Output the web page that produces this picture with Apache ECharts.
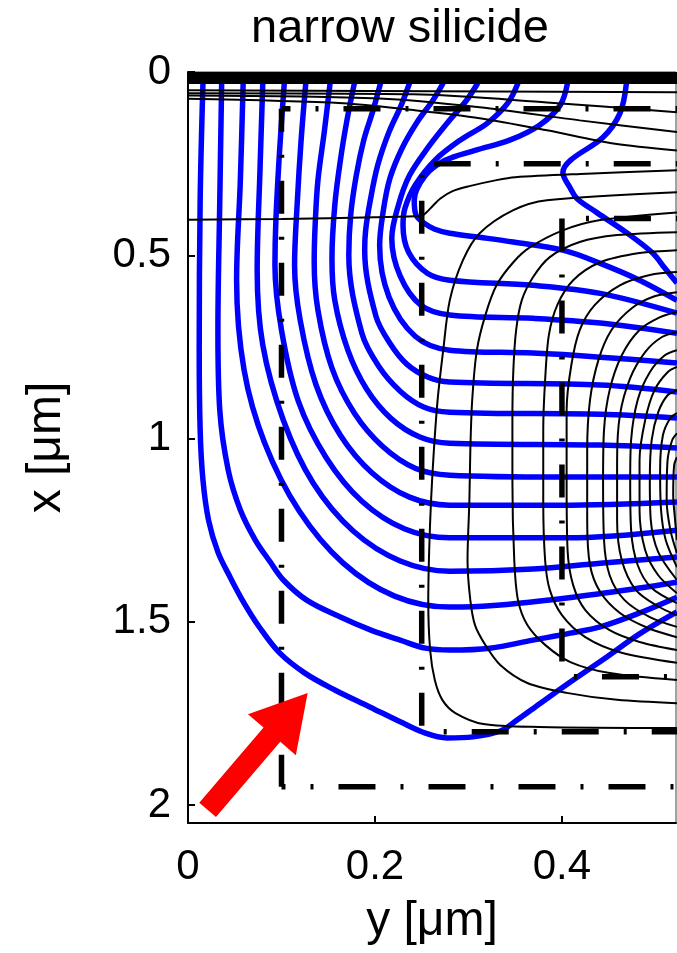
<!DOCTYPE html>
<html>
<head>
<meta charset="utf-8">
<script src="https://cdn.jsdelivr.net/npm/echarts@6/dist/echarts.min.js"></script>
<style>
html,body{margin:0;padding:0;background:#fff;}
#chart{width:677px;height:953px;}
</style>
</head>
<body>
<div id="chart"></div>
<script>
// Device cross-section under a narrow silicide contact.
// Every point is [y, x] in micrometres: y runs along the surface, x is depth.

const xTicks = [0, 0.2, 0.4];
const depthTicks = [0, 0.5, 1, 1.5, 2];

// silicide layer at the surface
const silicide = [[0, 0.0167], [0.53, 0.0167]];

// current flow lines leaving the silicide (blue)
const flowLines = [
  [[0.016,0.03],[0.013,0.35],[0.012,0.759],[0.013,0.977],[0.016,1.113],[0.022,1.223],[0.032,1.310],[0.045,1.378],[0.060,1.449],[0.077,1.517],[0.098,1.585],[0.125,1.640],[0.157,1.686],[0.195,1.733],[0.227,1.773],[0.254,1.804],[0.277,1.817],[0.305,1.814],[0.334,1.798],[0.352,1.768],[0.377,1.722],[0.412,1.659],[0.448,1.596],[0.483,1.533],[0.523,1.473]],
  [[0.036,0.03],[0.034,0.35],[0.032,0.704],[0.034,0.923],[0.043,1.086],[0.056,1.195],[0.072,1.277],[0.088,1.337],[0.102,1.386],[0.127,1.441],[0.163,1.487],[0.195,1.522],[0.227,1.55],[0.254,1.572],[0.280,1.577],[0.323,1.572],[0.369,1.55],[0.409,1.531],[0.441,1.514],[0.483,1.476],[0.523,1.433]],
  [[0.059,0.03],[0.056,0.295],[0.052,0.568],[0.060,0.813],[0.082,1.012],[0.119,1.198],[0.166,1.340],[0.221,1.430],[0.280,1.460],[0.334,1.454],[0.405,1.435],[0.483,1.408],[0.523,1.392]],
  [[0.080,0.03],[0.077,0.268],[0.074,0.541],[0.080,0.745],[0.102,0.950],[0.134,1.122],[0.177,1.253],[0.227,1.334],[0.280,1.362],[0.369,1.356],[0.441,1.340],[0.523,1.323]],
  [[0.103,0.03],[0.098,0.214],[0.094,0.405],[0.093,0.527],[0.100,0.704],[0.118,0.898],[0.148,1.053],[0.186,1.171],[0.232,1.247],[0.280,1.271],[0.405,1.271],[0.523,1.250]],
  [[0.126,0.03],[0.121,0.186],[0.117,0.350],[0.114,0.527],[0.120,0.677],[0.137,0.854],[0.163,0.991],[0.197,1.094],[0.237,1.160],[0.280,1.182],[0.398,1.182],[0.523,1.173]],
  [[0.152,0.03],[0.146,0.159],[0.139,0.295],[0.136,0.418],[0.135,0.519],[0.139,0.650],[0.154,0.808],[0.178,0.931],[0.208,1.021],[0.243,1.081],[0.280,1.10],[0.398,1.105],[0.523,1.105]],
  [[0.178,0.03],[0.170,0.132],[0.163,0.241],[0.157,0.364],[0.154,0.508],[0.157,0.623],[0.171,0.759],[0.191,0.865],[0.217,0.945],[0.248,0.996],[0.280,1.013],[0.441,1.018],[0.523,1.026]],
  [[0.206,0.03],[0.198,0.104],[0.188,0.186],[0.180,0.282],[0.174,0.391],[0.172,0.500],[0.186,0.713],[0.204,0.803],[0.227,0.871],[0.252,0.914],[0.280,0.928],[0.441,0.934],[0.523,0.944]],
  [[0.237,0.03],[0.228,0.091],[0.215,0.164],[0.203,0.254],[0.195,0.350],[0.190,0.432],[0.189,0.486],[0.201,0.666],[0.216,0.740],[0.234,0.797],[0.257,0.833],[0.280,0.846],[0.441,0.854],[0.523,0.873]],
  [[0.273,0.03],[0.262,0.077],[0.245,0.137],[0.229,0.208],[0.216,0.290],[0.209,0.377],[0.205,0.473],[0.215,0.614],[0.243,0.721],[0.280,0.759],[0.369,0.767],[0.441,0.778],[0.523,0.794]],
  [[0.310,0.03],[0.298,0.077],[0.278,0.137],[0.257,0.205],[0.237,0.282],[0.225,0.364],[0.218,0.454],[0.227,0.557],[0.249,0.636],[0.280,0.663],[0.369,0.672],[0.441,0.685],[0.523,0.713]],
  [[0.353,0.03],[0.342,0.085],[0.320,0.14],[0.291,0.186],[0.264,0.241],[0.243,0.309],[0.232,0.372],[0.230,0.418],[0.236,0.492],[0.256,0.549],[0.280,0.568],[0.369,0.582],[0.441,0.604],[0.523,0.658]],
  [[0.406,0.03],[0.398,0.091],[0.376,0.145],[0.344,0.186],[0.307,0.214],[0.275,0.241],[0.254,0.282],[0.242,0.350],[0.244,0.391],[0.253,0.413],[0.264,0.429],[0.280,0.440],[0.312,0.451],[0.348,0.464],[0.401,0.486],[0.441,0.522],[0.483,0.568],[0.523,0.623]],
  [[0.469,0.03],[0.462,0.113],[0.444,0.178],[0.409,0.241],[0.401,0.274],[0.409,0.317],[0.416,0.345],[0.437,0.383],[0.470,0.440],[0.497,0.494],[0.510,0.535],[0.523,0.576]]
];

// shallow contours just below the silicide (black)
const surfaceContours = [
  [[0,0.050],[0.523,0.055]],
  [[0,0.058],[0.241,0.061],[0.384,0.083],[0.523,0.110]],
  [[0,0.064],[0.205,0.072],[0.312,0.096],[0.419,0.132],[0.523,0.164]],
  [[0,0.073],[0.166,0.085],[0.241,0.104],[0.312,0.126],[0.384,0.159],[0.455,0.195],[0.523,0.214]]
];

// contour that runs flat at 0.4 um and bends up past the inner junction
const bentContour = [[0,0.403],[0.1,0.401],[0.2,0.396],[0.25,0.392],[0.255,0.383],[0.262,0.365],[0.27,0.345],[0.283,0.325],[0.3,0.312],[0.33,0.295],[0.35,0.287],[0.42,0.278],[0.523,0.268]];

// nested contours around the deep region (black)
const deepContours = [
  [[0.523,0.328],[0.384,0.350],[0.348,0.377],[0.312,0.440],[0.294,0.514],[0.280,0.623],[0.273,0.759],[0.267,0.895],[0.263,1.032],[0.260,1.168],[0.258,1.304],[0.257,1.441],[0.259,1.577],[0.264,1.659],[0.272,1.713],[0.286,1.749],[0.316,1.779],[0.376,1.787],[0.523,1.790]],
  [[0.523,0.383],[0.441,0.404],[0.401,0.432],[0.366,0.478],[0.348,0.519],[0.330,0.582],[0.318,0.664],[0.309,0.759],[0.304,0.895],[0.302,1.032],[0.301,1.168],[0.299,1.332],[0.302,1.441],[0.307,1.509],[0.318,1.563],[0.334,1.618],[0.363,1.667],[0.405,1.694],[0.459,1.713],[0.523,1.722]],
  [[0.523,0.437],[0.459,0.445],[0.419,0.464],[0.387,0.505],[0.369,0.560],[0.357,0.623],[0.351,0.704],[0.348,0.814],[0.347,0.950],[0.347,1.113],[0.349,1.332],[0.353,1.441],[0.363,1.509],[0.382,1.563],[0.409,1.610],[0.451,1.640],[0.523,1.659]],
  [[0.523,0.486],[0.483,0.494],[0.441,0.519],[0.412,0.568],[0.395,0.636],[0.386,0.718],[0.382,0.841],[0.380,0.977],[0.380,1.168],[0.382,1.332],[0.387,1.413],[0.400,1.482],[0.425,1.542],[0.462,1.583],[0.523,1.612]],
  [[0.523,0.546],[0.494,0.554],[0.462,0.582],[0.435,0.636],[0.419,0.704],[0.410,0.800],[0.405,0.923],[0.405,1.113],[0.406,1.304],[0.412,1.400],[0.425,1.468],[0.451,1.523],[0.483,1.555],[0.523,1.577]],
  [[0.523,0.601],[0.499,0.612],[0.475,0.644],[0.453,0.704],[0.439,0.786],[0.430,0.895],[0.427,1.032],[0.427,1.222],[0.430,1.345],[0.441,1.419],[0.462,1.476],[0.492,1.517],[0.523,1.542]],
  [[0.523,0.655],[0.505,0.669],[0.483,0.704],[0.464,0.773],[0.451,0.868],[0.445,0.977],[0.444,1.113],[0.445,1.277],[0.451,1.373],[0.467,1.441],[0.494,1.487],[0.523,1.514]],
  [[0.523,0.710],[0.507,0.723],[0.489,0.764],[0.473,0.835],[0.462,0.936],[0.459,1.059],[0.459,1.223],[0.464,1.332],[0.479,1.413],[0.502,1.457],[0.523,1.482]],
  [[0.523,0.759],[0.510,0.773],[0.494,0.819],[0.481,0.895],[0.474,1.004],[0.473,1.113],[0.474,1.250],[0.481,1.345],[0.496,1.408],[0.523,1.449]],
  [[0.523,0.805],[0.513,0.819],[0.499,0.868],[0.489,0.950],[0.483,1.059],[0.483,1.195],[0.489,1.304],[0.503,1.373],[0.523,1.422]],
  [[0.523,0.868],[0.513,0.882],[0.503,0.928],[0.496,1.004],[0.494,1.113],[0.495,1.222],[0.503,1.310],[0.523,1.386]],
  [[0.523,0.931],[0.516,0.944],[0.508,0.991],[0.505,1.086],[0.506,1.195],[0.511,1.277],[0.523,1.351]],
  [[0.523,0.986],[0.518,1.004],[0.513,1.059],[0.512,1.168],[0.516,1.250],[0.523,1.313]],
  [[0.523,1.051],[0.520,1.073],[0.519,1.154],[0.521,1.222],[0.523,1.277]]
];

// junction outlines (dash-dot): corner position, top depth, bottom depth
const junctionCorners = [0.1, 0.25, 0.4];
const junctionTops = [0.1, 0.25, 0.4];
const junctionBottoms = [1.95, 1.8, 1.65];

// red arrow pointing at the outer flow line
const arrowTail = [0.021, 2.013];
const arrowTip = [0.128, 1.694];

const FONT = '"Liberation Sans", Arial, Helvetica, sans-serif';
const BLUE = '#0000ff';
const RIGHT_END = 0.53;

const series = [];

flowLines.forEach(pts => series.push({
  type: 'line', data: pts, symbol: 'none', smooth: 0.35, clip: true, z: 2,
  lineStyle: { color: BLUE, width: 5.5 }, silent: true
}));

[...surfaceContours, bentContour, ...deepContours].forEach(pts => series.push({
  type: 'line', data: pts, symbol: 'none', smooth: 0.3, clip: true, z: 3,
  lineStyle: { color: '#000', width: 2 }, silent: true
}));

// dash-dot pattern is a little longer along the surface than down the depth
const horizDash = [37, 25, 3, 25];
const vertDash = [33, 23, 3, 23];
const topOffsets = [28, 78, 38];
const sideOffsets = [10, 45, 0];
const bottomOffsets = [33, 40, 50];
junctionCorners.forEach((yc, i) => {
  const segs = [
    { pts: [[yc, junctionTops[i]], [RIGHT_END, junctionTops[i]]], dash: horizDash, off: topOffsets[i] },
    { pts: [[yc, junctionTops[i]], [yc, junctionBottoms[i]]], dash: vertDash, off: sideOffsets[i] },
    { pts: [[yc, junctionBottoms[i]], [RIGHT_END, junctionBottoms[i]]], dash: horizDash, off: bottomOffsets[i] }
  ];
  segs.forEach(s => series.push({
    type: 'line', data: s.pts, symbol: 'none', clip: true, z: 4, silent: true,
    lineStyle: { color: '#000', width: 5.5, type: s.dash, dashOffset: s.off, cap: 'butt' }
  }));
});

series.push({
  type: 'line', data: silicide, symbol: 'none', clip: true, z: 5, silent: true,
  lineStyle: { color: '#000', width: 12, cap: 'butt' }
});

series.push({
  type: 'custom', coordinateSystem: 'cartesian2d', clip: false, z: 6, silent: true,
  data: [[arrowTail[0], arrowTail[1], arrowTip[0], arrowTip[1]]],
  renderItem: function (params, api) {
    const a = api.coord([api.value(0), api.value(1)]);
    const b = api.coord([api.value(2), api.value(3)]);
    const dx = b[0] - a[0], dy = b[1] - a[1];
    const len = Math.hypot(dx, dy);
    const ux = dx / len, uy = dy / len, nx = -uy, ny = ux;
    const headLen = 55, headHalf = 31.5, shaftHalf = 11;
    const bx = b[0] - ux * headLen, by = b[1] - uy * headLen;
    const p = (x, y, s) => [x + nx * s, y + ny * s];
    return {
      type: 'polygon',
      shape: { points: [p(a[0], a[1], shaftHalf), p(bx, by, shaftHalf), p(bx, by, headHalf), b,
                        p(bx, by, -headHalf), p(bx, by, -shaftHalf), p(a[0], a[1], -shaftHalf)] },
      style: { fill: '#ff0000' }
    };
  }
});

const chart = echarts.init(document.getElementById('chart'), null, { renderer: 'canvas' });
chart.setOption({
  animation: false,
  backgroundColor: '#fff',
  title: {
    text: 'narrow silicide', left: 246, top: 1,
    textStyle: { fontFamily: FONT, fontSize: 47, fontWeight: 'normal', color: '#000' }
  },
  grid: { left: 188, top: 72, right: 1, bottom: 130, show: true, borderColor: '#444', borderWidth: 1 },
  xAxis: {
    type: 'value', min: 0, max: 0.522, interval: 0.2,
    name: 'y [μm]', nameLocation: 'middle', nameGap: 75,
    nameTextStyle: { fontFamily: FONT, fontSize: 48, color: '#000' },
    axisLine: { show: true, onZero: false, lineStyle: { color: '#000', width: 2 } },
    axisTick: { show: true, inside: true, length: 7, customValues: xTicks, lineStyle: { color: '#000', width: 2 } },
    axisLabel: { customValues: xTicks, margin: 23, fontFamily: FONT, fontSize: 42, color: '#000',
                 formatter: v => String(v) },
    splitLine: { show: false }
  },
  yAxis: {
    type: 'value', inverse: true, min: 0, max: 2.049, interval: 0.5,
    name: 'x [μm]', nameLocation: 'middle', nameGap: 117, nameRotate: 90,
    nameTextStyle: { fontFamily: FONT, fontSize: 48, color: '#000' },
    axisLine: { show: true, onZero: false, lineStyle: { color: '#000', width: 2 } },
    axisTick: { show: true, inside: true, length: 7, customValues: depthTicks, lineStyle: { color: '#000', width: 2 } },
    axisLabel: { customValues: depthTicks, margin: 17, padding: [9, 0, 0, 0], fontFamily: FONT, fontSize: 42, color: '#000',
                 formatter: v => String(v) },
    splitLine: { show: false }
  },
  series: series
});
</script>
</body>
</html>
